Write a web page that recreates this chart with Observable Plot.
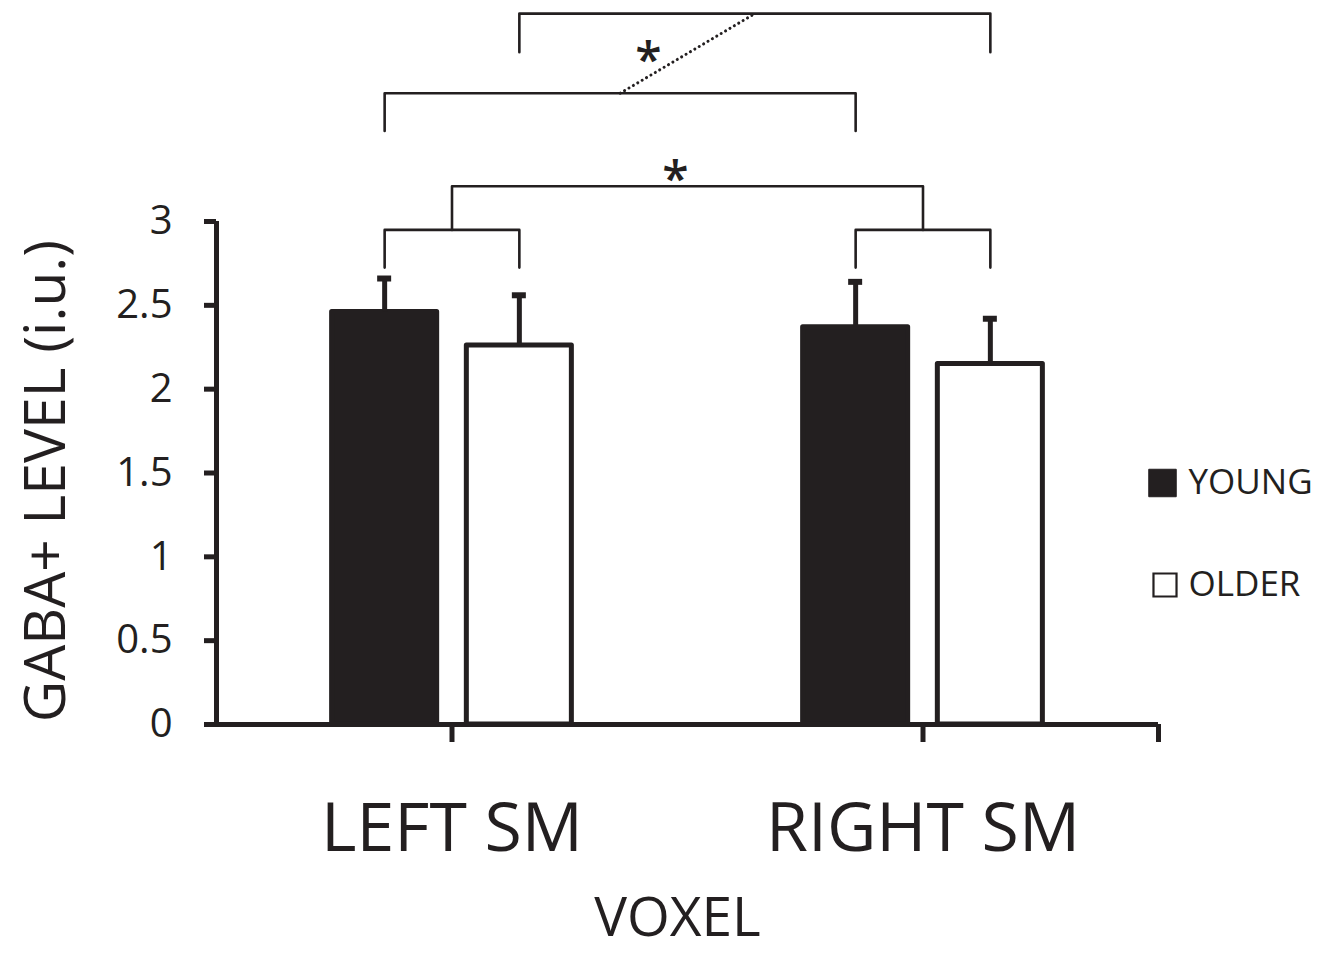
<!DOCTYPE html>
<html>
<head>
<meta charset="utf-8">
<script src="https://cdn.jsdelivr.net/npm/d3@7"></script>
<script src="https://cdn.jsdelivr.net/npm/@observablehq/plot@0.6"></script>
<style>
  html, body { margin: 0; padding: 0; background: #fff; }
  #chart svg { display: block; }
</style>
</head>
<body>
<div id="chart"></div>
<script>
// ---- data ----
const voxels = ["LEFT SM", "RIGHT SM"];
const groups = ["YOUNG", "OLDER"];
const youngMean = [2.46, 2.37];
const youngSD   = [0.20, 0.27];
const olderMean = [2.26, 2.15];
const olderSD   = [0.30, 0.27];
const yTicks = [0, 0.5, 1, 1.5, 2, 2.5, 3];
const yLabel = "GABA+ LEVEL (i.u.)";
const xLabel = "VOXEL";
// significance brackets (levels in y units)
const innerTop = 2.95, innerLeg = 2.725;           // young vs older within voxel
const voxelTop = 3.21;                              // left vs right voxel
const ageATop = 3.765, ageALeg = 3.54;              // left young vs right young
const ageBTop = 4.24, ageBLeg = 4.01;               // left older vs right older
const sigMark = "*";

// ---- layout helpers ----
const ink = "#231f20";
const font = "'Open Sans', 'DejaVu Sans', sans-serif";
const offset = 0.143, barW = 0.223;
const gx = (g) => g === "YOUNG" ? -offset : offset;

const bars = [];
voxels.forEach((v, i) => {
  bars.push({voxel: v, group: "YOUNG", c: i + gx("YOUNG"), mean: youngMean[i], sd: youngSD[i]});
  bars.push({voxel: v, group: "OLDER", c: i + gx("OLDER"), mean: olderMean[i], sd: olderSD[i]});
});
const cOf = (v, g) => bars.find(b => b.voxel === v && b.group === g).c;

const brackets = [];
function addBracket(id, xa, xb, top, legA, legB) {
  brackets.push({id, x: xa, y: legA}, {id, x: xa, y: top}, {id, x: xb, y: top}, {id, x: xb, y: legB});
}
voxels.forEach(v => addBracket("in-" + v, cOf(v, "YOUNG"), cOf(v, "OLDER"), innerTop, innerLeg, innerLeg));
const midL = (cOf(voxels[0], "YOUNG") + cOf(voxels[0], "OLDER")) / 2;
const midR = (cOf(voxels[1], "YOUNG") + cOf(voxels[1], "OLDER")) / 2;
addBracket("voxel", midL, midR, voxelTop, innerTop, innerTop);
const ayL = cOf(voxels[0], "YOUNG"), ayR = cOf(voxels[1], "YOUNG");
const aoL = cOf(voxels[0], "OLDER"), aoR = cOf(voxels[1], "OLDER");
addBracket("ageA", ayL, ayR, ageATop, ageALeg, ageALeg);
addBracket("ageB", aoL, aoR, ageBTop, ageBLeg, ageBLeg);
const dotted = [{x1: (ayL + ayR) / 2, y1: ageATop, x2: (aoL + aoR) / 2, y2: ageBTop}];
const starVoxel = [{x: (midL + midR) / 2, y: voxelTop}];
const starAge = [{x: (dotted[0].x1 + dotted[0].x2) / 2, y: (ageATop + ageBTop) / 2}];

const starStyle = {x: "x", y: "y", text: () => sigMark, fontSize: 48, fill: ink, lineAnchor: "middle", fontWeight: 600};

const chart = Plot.plot({
  width: 1334,
  height: 954,
  marginLeft: 216,
  marginRight: 176,
  marginTop: 221,
  marginBottom: 230,
  style: {fontFamily: font, color: ink, background: "#fff"},
  x: {domain: [-0.5, 1.5], axis: null},
  y: {domain: [0, 3], axis: null},
  marks: [
    // bars
    Plot.rectY(bars, {
      x1: d => d.c - barW / 2, x2: d => d.c + barW / 2, y1: 0, y2: "mean",
      fill: d => d.group === "YOUNG" ? ink : "#fff", stroke: ink, strokeWidth: 5,
      strokeLinejoin: "round"
    }),
    // error bars
    Plot.ruleX(bars, {x: "c", y1: "mean", y2: d => d.mean + d.sd, stroke: ink, strokeWidth: 5}),
    Plot.ruleY(bars, {y: d => d.mean + d.sd, x1: "c", x2: "c", insetLeft: -7, insetRight: -7, stroke: ink, strokeWidth: 6}),
    // axes lines
    Plot.ruleX([-0.5], {y1: 0, y2: 3, stroke: ink, strokeWidth: 5}),
    Plot.ruleY([0], {x1: -0.5, x2: 1.5, stroke: ink, strokeWidth: 5}),
    // y ticks and labels
    Plot.axisY({ticks: yTicks, tickSize: 12, tickPadding: 32, strokeWidth: 5, stroke: ink,
      fontSize: 40, fill: ink, tickFormat: d => String(d), label: null}),
    // x ticks (no labels)
    Plot.axisX({ticks: [0, 1, 1.5], tickSize: 18, strokeWidth: 5, stroke: ink, tickFormat: () => "", label: null}),
    // category labels
    Plot.text(voxels, {x: (d, i) => i, frameAnchor: "bottom", dy: 105, lineAnchor: "middle",
      fontSize: 68, fill: ink, text: d => d}),
    // axis titles
    Plot.text([xLabel], {frameAnchor: "bottom", dx: -10, dy: 194, lineAnchor: "middle", fontSize: 55, fill: ink, text: d => d}),
    Plot.text([yLabel], {frameAnchor: "left", dx: -170, dy: 8, rotate: -90, textAnchor: "middle", lineAnchor: "middle",
      fontSize: 57, fill: ink, text: d => d}),
    // brackets
    Plot.line(brackets, {x: "x", y: "y", z: "id", stroke: ink, strokeWidth: 2.6, curve: "linear"}),
    Plot.link(dotted, {x1: "x1", y1: "y1", x2: "x2", y2: "y2", stroke: ink, strokeWidth: 3,
      strokeDasharray: "0.1 5", strokeLinecap: "round"}),
    Plot.text(starVoxel, {...starStyle, dx: -12, dy: -6}),
    Plot.text(starAge, {...starStyle, dx: -39, dy: 8}),
    // legend
    Plot.dot([groups[0]], {frameAnchor: "right", dx: 4, dy: 10, symbol: "square", r: 15.5, fill: ink, stroke: ink, strokeWidth: 1}),
    Plot.dot([groups[1]], {frameAnchor: "right", dx: 6.5, dy: 112, symbol: "square", r: 13, fill: "#fff", stroke: ink, strokeWidth: 2.2}),
    Plot.text([groups[0]], {frameAnchor: "right", dx: 30, dy: 9.5, textAnchor: "start",
      lineAnchor: "middle", fontSize: 35, fill: ink, text: d => d}),
    Plot.text([groups[1]], {frameAnchor: "right", dx: 30, dy: 111.5, textAnchor: "start",
      lineAnchor: "middle", fontSize: 35, fill: ink, text: d => d})
  ]
});
document.getElementById("chart").appendChild(chart);
</script>
</body>
</html>
